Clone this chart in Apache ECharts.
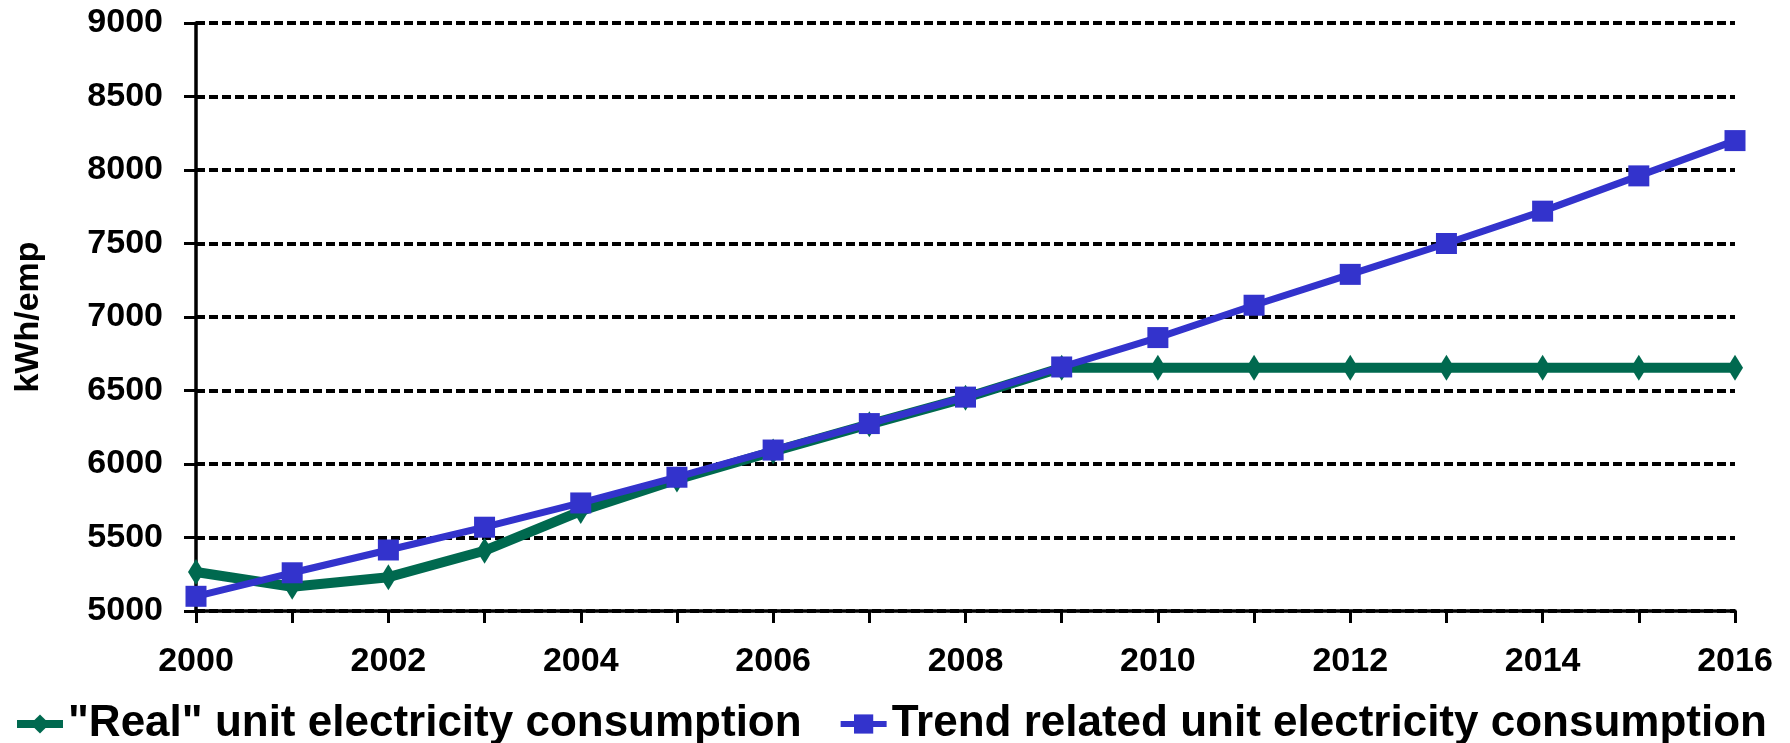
<!DOCTYPE html>
<html>
<head>
<meta charset="utf-8">
<script src="https://cdn.jsdelivr.net/npm/echarts@6/dist/echarts.min.js"></script>
<style>
  html, body { margin: 0; padding: 0; background: #fff; }
  #chart { width: 1790px; height: 743px; }
</style>
</head>
<body>
<div id="chart"></div>
<script>
var years = ['2000', '2001', '2002', '2003', '2004', '2005', '2006', '2007', '2008',
             '2009', '2010', '2011', '2012', '2013', '2014', '2015', '2016'];
var realUnit = [5265, 5165, 5230, 5410, 5680, 5895, 6085, 6270, 6450,
                6655, 6655, 6655, 6655, 6655, 6655, 6655, 6655];
var trendUnit = [5100, 5260, 5415, 5570, 5735, 5910, 6095, 6275, 6455,
                 6660, 6860, 7080, 7290, 7500, 7720, 7960, 8200];
var seriesNames = ['"Real" unit electricity consumption', 'Trend related unit electricity consumption'];

var font = '"Liberation Sans", Arial, sans-serif';
var green = '#00694F';
var blue = '#3333CC';
var chart = echarts.init(document.getElementById('chart'));

var option = {
  backgroundColor: '#fff',
  animation: false,
  grid: { left: 196, right: 55, top: 23, bottom: 132 },
  legend: {
    left: 8,
    top: 697,
    itemWidth: 46,
    itemHeight: 24,
    itemGap: 36,
    textStyle: { fontFamily: font, fontWeight: 'bold', fontSize: 44, color: '#000' },
    data: [
      { name: seriesNames[0], lineStyle: { width: 8 } },
      { name: seriesNames[1], lineStyle: { width: 6 } }
    ]
  },
  xAxis: {
    type: 'category',
    data: years,
    boundaryGap: false,
    axisLine: { lineStyle: { color: '#000', width: 3.5 } },
    axisTick: { show: true, interval: 0, length: 12, lineStyle: { color: '#000', width: 3 } },
    axisLabel: {
      interval: 1,
      margin: 34,
      fontFamily: font, fontWeight: 'bold', fontSize: 34, color: '#000'
    },
    splitLine: { show: false }
  },
  yAxis: {
    type: 'value',
    min: 5000,
    max: 9000,
    interval: 500,
    name: 'kWh/emp',
    nameLocation: 'middle',
    nameGap: 150,
    nameTextStyle: { fontFamily: font, fontWeight: 'bold', fontSize: 34, color: '#000' },
    axisLine: { show: true, lineStyle: { color: '#000', width: 3.5 } },
    axisTick: { show: true, length: 12, lineStyle: { color: '#000', width: 3 } },
    axisLabel: {
      margin: 33,
      formatter: function (v) { return String(v); },
      fontFamily: font, fontWeight: 'bold', fontSize: 34, color: '#000'
    },
    splitLine: { show: true, lineStyle: { color: '#000', width: 4, type: [9, 4] } }
  },
  series: [
    {
      name: seriesNames[0],
      type: 'line',
      data: realUnit,
      symbol: 'diamond',
      symbolSize: [16, 26],
      itemStyle: { color: green },
      lineStyle: { color: green, width: 10 },
      z: 2
    },
    {
      name: seriesNames[1],
      type: 'line',
      data: trendUnit,
      symbol: 'rect',
      symbolSize: 21,
      itemStyle: { color: blue },
      lineStyle: { color: blue, width: 7 },
      z: 3
    }
  ]
};
chart.setOption(option);
</script>
</body>
</html>
